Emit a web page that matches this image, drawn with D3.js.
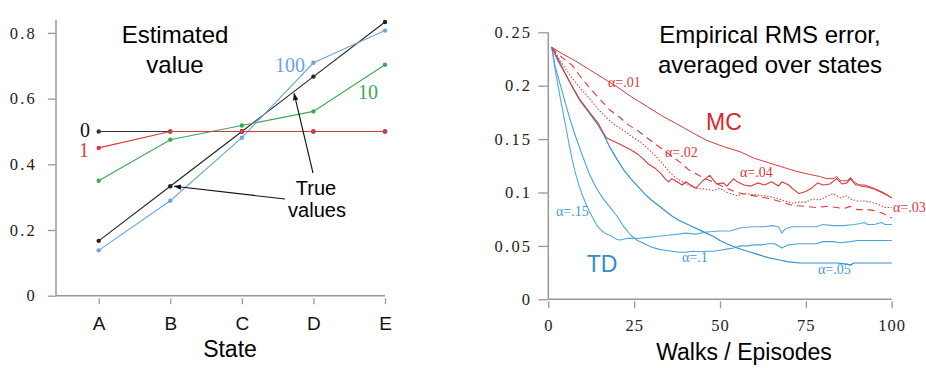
<!DOCTYPE html>
<meta charset="utf-8">
<script src="https://d3js.org/d3.v7.min.js"></script>
<style>
  body { margin: 0; background: #fff; }
  .tick text { font-family: "Liberation Serif", "DejaVu Serif", serif; }
  .sans { font-family: "Liberation Sans", Arial, sans-serif; }
  .serif { font-family: "Liberation Serif", "DejaVu Serif", serif; }
</style>
<div id="chart"></div>
<script>
// ---- data ----
var states = ["A", "B", "C", "D", "E"];
var trueValues = [0.167, 0.333, 0.5, 0.667, 0.833];
var est0 = [0.5, 0.5, 0.5, 0.5, 0.5];
var est1 = [0.45, 0.5, 0.5, 0.5, 0.5];
var est10 = [0.35, 0.475, 0.518, 0.561, 0.703];
var est100 = [0.138, 0.289, 0.481, 0.709, 0.807];
var leftTicks = [0, 0.2, 0.4, 0.6, 0.8];

var rightYTicks = [0, 0.05, 0.1, 0.15, 0.2, 0.25];
var rightXTicks = [0, 25, 50, 75, 100];

// [episode, rms error]
var mc01 = [[1,.236],[4,.230],[8,.223],[12,.215],[17,.205],[20,.199],[24,.190],[29,.180],[33,.172],[37,.165],[42,.156],[46,.149],[51,.143],[56,.138],[60,.132],[64,.128],[68,.124],[72,.120],[76,.117],[79,.115],[81,.113],[83,.113],[84,.115],[85,.111],[87,.111],[88,.114],[89,.110],[91,.106],[93,.105],[95,.103],[97,.100],[99,.097],[100,.095]];
var mc02 = [[1,.236],[3,.229],[5,.224],[7,.219],[9,.210],[11.5,.200],[14,.191],[16,.184],[18,.177],[21,.170],[23,.164],[26,.158],[28,.153],[30.5,.147],[33,.141],[36,.134],[38.5,.128],[41,.121],[45,.114],[48.5,.109],[52,.104],[55,.100],[58,.098],[61.5,.096],[65,.094],[68,.091],[71,.088],[75,.087],[78,.086],[81,.087],[84,.086],[86,.085],[88,.087],[90,.084],[93,.084],[95,.083],[97,.081],[99,.078],[100,.076]];
var mc03 = [[1,.236],[3,.226],[5,.216],[7,.207],[9.5,.197],[12,.188],[14.5,.178],[17,.170],[19,.164],[22,.158],[24,.153],[27,.147],[29,.141],[31,.135],[33,.128],[35,.120],[37,.114],[40,.108],[43,.104],[46,.103],[48,.102],[50,.104],[52,.100],[55,.097],[57,.099],[60,.098],[63,.097],[66,.095],[69,.092],[71,.090],[73,.091],[75,.091],[77,.094],[79,.093],[81,.096],[83,.099],[85,.095],[87,.097],[88,.094],[90,.092],[92,.092],[94,.091],[96,.089],[98,.086],[100,.086]];
var mc04 = [[1,.236],[3,.224],[5,.211],[7,.199],[9,.188],[12,.175],[14.5,.165],[16,.156],[17,.151],[19,.148],[21,.145],[24,.140],[26,.136],[27.5,.132],[29,.127],[31,.123],[33,.117],[34,.113],[35,.110],[36,.113],[37,.111],[39,.107],[40,.110],[41,.108],[43,.104],[45,.111],[47,.116],[48,.112],[49,.108],[51,.109],[52,.106],[54,.113],[55,.110],[57,.107],[59,.106],[61,.109],[63,.107],[65,.110],[67,.106],[68,.110],[70,.107],[71,.104],[73,.099],[75,.101],[77,.105],[78.5,.109],[80,.107],[82,.108],[84,.113],[85.5,.108],[87,.109],[88,.113],[89.5,.107],[92,.107],[94,.105],[96,.102],[97.5,.100],[99,.097],[100,.095]];
var td05 = [[1,.236],[3,.222],[5,.211],[7,.199],[9,.187],[12,.174],[14.5,.163],[16,.155],[18,.142],[20,.131],[22,.121],[24,.113],[26,.106],[28,.099],[30,.093],[32,.088],[34,.083],[36,.078],[38,.074],[40,.071],[42,.068],[44,.065],[46,.062],[48,.059],[50,.055],[52,.052],[55,.048],[58,.045],[61,.042],[64,.039],[67,.037],[70,.035],[73,.034],[76,.034],[80,.034],[84,.034],[87,.033],[88,.032],[89,.034],[92,.034],[96,.034],[100,.034]];
var td10 = [[1,.236],[2,.218],[4,.195],[6,.172],[8,.152],[10,.134],[12,.117],[14,.104],[16,.094],[18,.086],[20,.078],[22,.068],[24,.060],[26,.055],[28,.052],[30,.049],[32,.047],[34,.046],[36,.045],[38,.044],[40,.044],[42,.045],[44,.0445],[46,.045],[48,.045],[50,.046],[52,.047],[54,.048],[56,.050],[58,.050],[60,.051],[62,.051],[64,.052],[66,.052],[68,.048],[70,.051],[73,.052],[76,.052],[78,.052],[80,.054],[83,.054],[85,.053],[88,.054],[90,.055],[95,.055],[100,.055]];
var td15 = [[1,.236],[2,.215],[3,.197],[4,.180],[5,.163],[6,.146],[7,.130],[8,.117],[9,.106],[10,.097],[11,.089],[12,.082],[13,.076],[14,.070],[15,.066],[16,.063],[17,.061],[18,.060],[19,.058],[20,.056],[21,.0555],[23,.057],[26,.057],[29,.058],[32,.059],[35,.060],[38,.061],[40,.062],[43,.061],[46,.063],[50,.064],[53,.064],[56,.067],[60,.068],[63,.068],[65,.069],[67,.068],[68,.062],[69,.066],[71,.068],[75,.068],[78,.068],[80,.070],[83,.069],[86,.069],[89,.070],[91,.071],[92,.072],[93,.070],[95,.070],[97,.072],[98,.070],[100,.070]];

var red = "#d93a3a", blue = "#3e9bd8", green = "#3ea756", lblue = "#6aa5dc", axisCol = "#999";

var svg = d3.select("#chart").append("svg")
    .attr("width", 926).attr("height", 368);

svg.append("defs").append("marker")
    .attr("id", "arrow")
    .attr("viewBox", "0 0 10 10")
    .attr("refX", 9).attr("refY", 5)
    .attr("markerWidth", 7).attr("markerHeight", 7)
    .attr("orient", "auto")
  .append("path").attr("d", "M0,1.5 L10,5 L0,8.5 Z").attr("fill", "#111");

// ================= left panel =================
var xL = d3.scalePoint().domain(states).range([98.7, 385]);
var yL = d3.scaleLinear().domain([0, 0.8]).range([295.7, 32.9]);

var left = svg.append("g");

// axis lines
left.append("line").attr("x1", 56).attr("x2", 56).attr("y1", yL(0)).attr("y2", yL(0.84))
    .attr("stroke", axisCol).attr("stroke-width", 1.5);
left.append("line").attr("x1", 56).attr("x2", xL("E")).attr("y1", yL(0)).attr("y2", yL(0))
    .attr("stroke", axisCol).attr("stroke-width", 1.5);

var yAxisL = left.append("g").attr("transform", "translate(56,0)")
    .call(d3.axisLeft(yL).tickValues(leftTicks).tickSize(8).tickPadding(11)
      .tickFormat(function(d) { return d === 0 ? "0" : d3.format(".1f")(d); }));
var xAxisL = left.append("g").attr("transform", "translate(0," + (yL(0) + 2.5) + ")")
    .call(d3.axisBottom(xL).tickSize(6).tickPadding(12));
[yAxisL, xAxisL].forEach(function(a) {
  a.select(".domain").remove();
  a.selectAll(".tick line").attr("stroke", axisCol).attr("stroke-width", 1.3);
});
yAxisL.selectAll("text").attr("font-size", 16.5).attr("letter-spacing", "2.2px").attr("fill", "#222");
xAxisL.selectAll("text").attr("class", "sans").attr("font-size", 19)
    .style("font-family", "Liberation Sans, Arial, sans-serif").attr("fill", "#111");

var lineL = d3.line().x(function(d, i) { return xL(states[i]); }).y(function(d) { return yL(d); });

var leftSeries = [
  {vals: est0, color: "#333"},
  {vals: trueValues, color: "#222"},
  {vals: est10, color: green},
  {vals: est100, color: lblue},
  {vals: est1, color: red}
];
leftSeries.forEach(function(s) {
  left.append("path").datum(s.vals).attr("d", lineL)
      .attr("fill", "none").attr("stroke", s.color).attr("stroke-width", 1.1);
  left.selectAll(null).data(s.vals).enter().append("circle")
      .attr("cx", function(d, i) { return xL(states[i]); })
      .attr("cy", function(d) { return yL(d); })
      .attr("r", 2.2).attr("fill", s.color);
});

// labels
left.append("text").attr("class", "sans").attr("x", 175).attr("y", 43).attr("text-anchor", "middle")
    .attr("font-size", 24).text("Estimated");
left.append("text").attr("class", "sans").attr("x", 175).attr("y", 73).attr("text-anchor", "middle")
    .attr("font-size", 24).text("value");
left.append("text").attr("class", "serif").attr("x", 90).attr("y", 137).attr("text-anchor", "end")
    .attr("font-size", 20).attr("fill", "#111").text("0");
left.append("text").attr("class", "serif").attr("x", 89).attr("y", 157).attr("text-anchor", "end")
    .attr("font-size", 20).attr("fill", red).text("1");
left.append("text").attr("class", "serif").attr("x", 275).attr("y", 72)
    .attr("font-size", 20).attr("fill", lblue).text("100");
left.append("text").attr("class", "serif").attr("x", 358).attr("y", 99)
    .attr("font-size", 20).attr("fill", green).text("10");
left.append("text").attr("class", "sans").attr("x", 316).attr("y", 195).attr("text-anchor", "middle")
    .attr("font-size", 20).text("True");
left.append("text").attr("class", "sans").attr("x", 317).attr("y", 217).attr("text-anchor", "middle")
    .attr("font-size", 20).text("values");
left.append("text").attr("class", "sans").attr("x", 230).attr("y", 357).attr("text-anchor", "middle")
    .attr("font-size", 23).text("State");

// arrows to the true values line
var tB = [xL("B"), yL(trueValues[1])];
left.append("line").attr("x1", 285).attr("y1", 199).attr("x2", tB[0] + 4).attr("y2", tB[1])
    .attr("stroke", "#111").attr("stroke-width", 1.1).attr("marker-end", "url(#arrow)");
var f = 0.73;
var tCD = [xL("C") + f * (xL("D") - xL("C")), yL(trueValues[2] + f * (trueValues[3] - trueValues[2])) + 2];
left.append("line").attr("x1", 313).attr("y1", 173).attr("x2", tCD[0]).attr("y2", tCD[1])
    .attr("stroke", "#111").attr("stroke-width", 1.1).attr("marker-end", "url(#arrow)");

// ================= right panel =================
var xR = d3.scaleLinear().domain([0, 100]).range([548.3, 891.7]);
var yR = d3.scaleLinear().domain([0, 0.25]).range([299.3, 32.3]);

var right = svg.append("g");
right.append("line").attr("x1", xR(0)).attr("x2", xR(0)).attr("y1", yR(0)).attr("y2", yR(0.25))
    .attr("stroke", axisCol).attr("stroke-width", 1.5);
right.append("line").attr("x1", xR(0)).attr("x2", xR(100)).attr("y1", yR(0)).attr("y2", yR(0))
    .attr("stroke", axisCol).attr("stroke-width", 1.5);

var yAxisR = right.append("g").attr("transform", "translate(" + xR(0) + ",0)")
    .call(d3.axisLeft(yR).tickValues(rightYTicks).tickSize(10).tickPadding(6)
      .tickFormat(function(d) { return d === 0 ? "0" : String(+d.toFixed(2)); }));
var xAxisR = right.append("g").attr("transform", "translate(0," + (yR(0) + 2) + ")")
    .call(d3.axisBottom(xR).tickValues(rightXTicks).tickSize(7).tickPadding(11));
[yAxisR, xAxisR].forEach(function(a) {
  a.select(".domain").remove();
  a.selectAll(".tick line").attr("stroke", axisCol).attr("stroke-width", 1.3);
  a.selectAll("text").attr("font-size", 16.5).attr("fill", "#222");
});
yAxisR.selectAll("text").attr("letter-spacing", "2.2px");
xAxisR.selectAll("text").attr("letter-spacing", "1px");

var lineR = d3.line().x(function(d) { return xR(d[0]); }).y(function(d) { return yR(d[1]); });

var rightSeries = [
  {vals: td15, color: "#56a9e0", dash: null, w: 1.1},
  {vals: td10, color: "#4aa2dc", dash: null, w: 1.1},
  {vals: td05, color: "#3590d0", dash: null, w: 1.2},
  {vals: mc02, color: red, dash: "7,5", w: 1.1},
  {vals: mc03, color: red, dash: "1.4,1.8", w: 1.1},
  {vals: mc04, color: red, dash: null, w: 1.1},
  {vals: mc01, color: red, dash: null, w: 1.0}
];
rightSeries.forEach(function(s) {
  right.append("path").datum(s.vals).attr("d", lineR)
      .attr("fill", "none").attr("stroke", s.color).attr("stroke-width", s.w)
      .attr("stroke-dasharray", s.dash).attr("stroke-linejoin", "round");
});

right.append("text").attr("class", "sans").attr("x", 770).attr("y", 43).attr("text-anchor", "middle")
    .attr("font-size", 24).text("Empirical RMS error,");
right.append("text").attr("class", "sans").attr("x", 770).attr("y", 73).attr("text-anchor", "middle")
    .attr("font-size", 24).text("averaged over states");
right.append("text").attr("class", "sans").attr("x", 724).attr("y", 130).attr("text-anchor", "middle")
    .attr("font-size", 23).attr("fill", "#d42a2a").text("MC");
right.append("text").attr("class", "sans").attr("x", 602).attr("y", 272).attr("text-anchor", "middle")
    .attr("font-size", 23).attr("fill", "#2f8fce").text("TD");

var alphaLabels = [
  {t: "α=.01", x: 608, y: 87, c: red},
  {t: "α=.02", x: 665, y: 157, c: red},
  {t: "α=.04", x: 740, y: 177, c: red},
  {t: "α=.03", x: 893, y: 212, c: red},
  {t: "α=.15", x: 556, y: 216, c: blue},
  {t: "α=.1", x: 682, y: 262, c: blue},
  {t: "α=.05", x: 818, y: 274, c: blue}
];
right.selectAll(null).data(alphaLabels).enter().append("text")
    .attr("class", "serif").attr("font-size", 14)
    .attr("x", function(d) { return d.x; }).attr("y", function(d) { return d.y; })
    .attr("fill", function(d) { return d.c; }).text(function(d) { return d.t; });

right.append("text").attr("class", "sans").attr("x", 744).attr("y", 360).attr("text-anchor", "middle")
    .attr("font-size", 23).text("Walks / Episodes");
</script>
